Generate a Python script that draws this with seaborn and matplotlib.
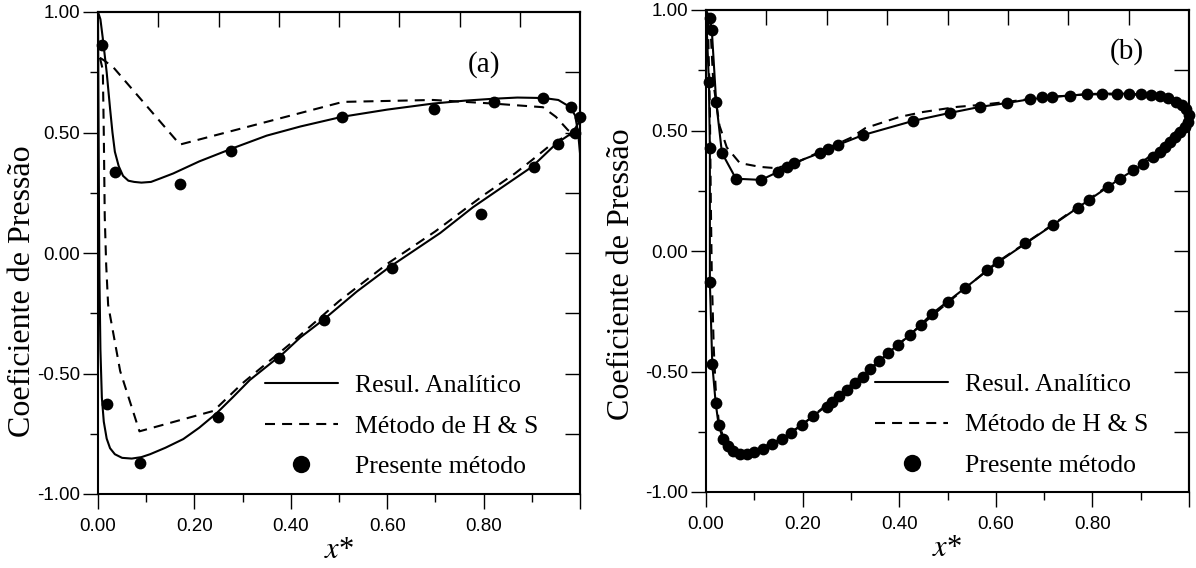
import matplotlib
matplotlib.use("Agg")
import matplotlib.pyplot as plt
import seaborn as sns
from matplotlib.lines import Line2D
from matplotlib.ticker import FixedLocator

# ---------------- data: panel (a) ----------------
a_anal_upper_x = [0.0, 0.005, 0.010, 0.018, 0.025, 0.030, 0.035, 0.043, 0.052, 0.063, 0.075, 0.090,
                  0.110, 0.130, 0.156, 0.210, 0.280, 0.350, 0.420, 0.506, 0.600, 0.695, 0.760, 0.820,
                  0.870, 0.925, 0.955, 0.980, 0.990, 0.996, 1.0]
a_anal_upper_cp = [1.0, 0.97, 0.89, 0.75, 0.60, 0.50, 0.42, 0.36, 0.32, 0.30, 0.295, 0.292,
                   0.295, 0.31, 0.33, 0.38, 0.435, 0.487, 0.525, 0.565, 0.595, 0.62, 0.632, 0.64,
                   0.645, 0.643, 0.635, 0.605, 0.57, 0.50, 0.415]
a_anal_lower_x = [0.0, 0.001, 0.002, 0.003, 0.005, 0.008, 0.012, 0.018, 0.025, 0.035, 0.050, 0.070,
                  0.090, 0.108, 0.140, 0.177, 0.210, 0.246, 0.280, 0.315, 0.350, 0.385, 0.420, 0.467,
                  0.537, 0.605, 0.710, 0.778, 0.840, 0.900, 0.952, 0.985, 1.0]
a_anal_lower_cp = [1.0, 0.6, 0.2, -0.1, -0.4, -0.6, -0.70, -0.77, -0.81, -0.835, -0.85, -0.853,
                   -0.847, -0.835, -0.808, -0.772, -0.725, -0.665, -0.598, -0.527, -0.471, -0.415, -0.35, -0.278,
                   -0.16, -0.058, 0.083, 0.19, 0.275, 0.357, 0.456, 0.50, 0.55]

a_hs_upper_x = [0.004, 0.012, 0.032, 0.170, 0.508, 0.695, 0.820, 0.923, 0.950, 0.975, 0.992]
a_hs_upper_cp = [0.81, 0.80, 0.77, 0.45, 0.627, 0.635, 0.62, 0.605, 0.565, 0.51, 0.485]
a_hs_lower_x = [0.004, 0.010, 0.012, 0.014, 0.017, 0.021, 0.046, 0.086, 0.240, 0.300, 0.400, 0.500,
                0.600, 0.700, 0.800, 0.865, 0.900, 0.940, 0.975, 0.992]
a_hs_lower_cp = [0.81, 0.76, 0.50, 0.15, -0.05, -0.215, -0.49, -0.74, -0.655, -0.54, -0.375, -0.20,
                 -0.045, 0.09, 0.24, 0.33, 0.385, 0.45, 0.49, 0.485]

a_pres_x = [0.008, 0.035, 0.170, 0.276, 0.506, 0.697, 0.821, 0.924, 0.981, 1.0, 0.990, 0.955,
            0.905, 0.794, 0.610, 0.469, 0.376, 0.249, 0.087, 0.018]
a_pres_cp = [0.863, 0.336, 0.286, 0.425, 0.566, 0.598, 0.627, 0.645, 0.607, 0.565, 0.496, 0.454,
             0.358, 0.162, -0.063, -0.278, -0.436, -0.68, -0.872, -0.627]

# ---------------- data: panel (b) ----------------
b_pres_upper_x = [0.008, 0.012, 0.021, 0.033, 0.062, 0.114, 0.149, 0.168, 0.182, 0.236, 0.252, 0.273,
                  0.325, 0.429, 0.505, 0.567, 0.623, 0.671, 0.696, 0.716, 0.754, 0.789, 0.820, 0.851,
                  0.876, 0.900, 0.921, 0.940, 0.957, 0.973, 0.985, 0.994, 1.0]
b_pres_upper_cp = [0.967, 0.917, 0.62, 0.407, 0.30, 0.295, 0.328, 0.349, 0.365, 0.407, 0.423, 0.44,
                   0.481, 0.54, 0.573, 0.598, 0.614, 0.63, 0.639, 0.639, 0.645, 0.651, 0.653, 0.653,
                   0.653, 0.65, 0.647, 0.643, 0.635, 0.62, 0.605, 0.59, 0.565]
b_pres_lower_x = [0.006, 0.008, 0.008, 0.013, 0.020, 0.026, 0.035, 0.045, 0.056, 0.070, 0.085, 0.099,
                  0.118, 0.136, 0.157, 0.176, 0.198, 0.222, 0.250, 0.260, 0.275, 0.292, 0.309, 0.325,
                  0.340, 0.358, 0.377, 0.397, 0.422, 0.445, 0.468, 0.501, 0.536, 0.582, 0.605, 0.660,
                  0.718, 0.770, 0.793, 0.832, 0.857, 0.884, 0.905, 0.925, 0.940, 0.950, 0.961, 0.971,
                  0.981, 0.992, 0.998]
b_pres_lower_cp = [0.70, 0.427, -0.13, -0.47, -0.63, -0.72, -0.78, -0.81, -0.83, -0.842, -0.842, -0.834,
                   -0.822, -0.80, -0.78, -0.755, -0.722, -0.685, -0.647, -0.627, -0.602, -0.577, -0.548, -0.523,
                   -0.49, -0.456, -0.423, -0.39, -0.349, -0.307, -0.26, -0.21, -0.154, -0.079, -0.046, 0.033,
                   0.108, 0.178, 0.212, 0.266, 0.30, 0.336, 0.36, 0.39, 0.41, 0.432, 0.452, 0.473,
                   0.494, 0.515, 0.535]

b_anal_upper_x = [0.0, 0.008, 0.012, 0.021, 0.033, 0.062, 0.114, 0.149, 0.182, 0.236, 0.273, 0.325,
                  0.429, 0.505, 0.567, 0.623, 0.671, 0.716, 0.754, 0.789, 0.820, 0.876, 0.921, 0.957,
                  0.985, 1.0]
b_anal_upper_cp = [1.0, 0.967, 0.917, 0.62, 0.407, 0.30, 0.295, 0.328, 0.365, 0.407, 0.44, 0.481,
                   0.54, 0.573, 0.598, 0.614, 0.63, 0.639, 0.645, 0.651, 0.653, 0.653, 0.647, 0.635,
                   0.605, 0.565]
b_anal_lower_x = [0.0, 0.006, 0.008, 0.008, 0.013, 0.020, 0.026, 0.035, 0.045, 0.056, 0.070, 0.085,
                  0.099, 0.136, 0.176, 0.222, 0.275, 0.325, 0.377, 0.422, 0.468, 0.536, 0.605, 0.718,
                  0.793, 0.857, 0.905, 0.950, 0.981, 1.0]
b_anal_lower_cp = [1.0, 0.70, 0.427, -0.13, -0.47, -0.63, -0.72, -0.78, -0.81, -0.83, -0.842, -0.842,
                   -0.834, -0.80, -0.755, -0.685, -0.602, -0.523, -0.423, -0.349, -0.26, -0.154, -0.046, 0.108,
                   0.212, 0.30, 0.36, 0.432, 0.494, 0.565]

b_hs_upper_x = [0.004, 0.010, 0.015, 0.028, 0.043, 0.070, 0.112, 0.143, 0.180, 0.250, 0.300, 0.330,
                0.400, 0.450, 0.520, 0.567, 0.620, 0.700, 0.790, 0.880, 0.940, 0.975, 0.995, 1.0]
b_hs_upper_cp = [0.95, 0.90, 0.70, 0.52, 0.43, 0.365, 0.349, 0.344, 0.36, 0.425, 0.47, 0.51,
                 0.556, 0.577, 0.598, 0.606, 0.618, 0.638, 0.65, 0.65, 0.64, 0.615, 0.585, 0.56]
b_hs_lower_x = [0.004, 0.008, 0.010, 0.012, 0.016, 0.020, 0.026, 0.035, 0.050, 0.070, 0.100, 0.150,
                0.200, 0.300, 0.400, 0.500, 0.600, 0.700, 0.800, 0.900, 0.950, 0.980, 1.0]
b_hs_lower_cp = [0.95, 0.60, 0.20, -0.10, -0.40, -0.57, -0.70, -0.77, -0.82, -0.835, -0.83, -0.785,
                 -0.72, -0.555, -0.385, -0.215, -0.05, 0.085, 0.225, 0.365, 0.44, 0.50, 0.56]

# ---------------- labels / ticks ----------------
x_major_ticks = [0.0, 0.2, 0.4, 0.6, 0.8, 1.0]
x_tick_labels = ["0.00", "0.20", "0.40", "0.60", "0.80", ""]
x_minor_ticks = [0.1, 0.3, 0.5, 0.7, 0.9]
x_top_ticks = [0.125, 0.25, 0.375, 0.5, 0.625, 0.75, 0.875]
y_major_ticks = [-1.0, -0.5, 0.0, 0.5, 1.0]
y_tick_labels = ["-1.00", "-0.50", "0.00", "0.50", "1.00"]
y_minor_ticks = [-0.75, -0.25, 0.25, 0.75]
y_right_ticks = [-0.75, -0.5, -0.25, 0.0, 0.25, 0.5, 0.75]
legend_labels = ["Resul. Analítico", "Método de H & S", "Presente método"]
y_label = "Coeficiente de Pressão"
x_label = r"$x$*"
panel_tags = ["(a)", "(b)"]

# ---------------- style ----------------
sns.set_theme(style="ticks")
plt.rcParams["font.family"] = ["Liberation Sans", "DejaVu Sans"]
plt.rcParams["mathtext.fontset"] = "stix"
plt.rcParams["axes.unicode_minus"] = False
for k in ["axes.edgecolor", "xtick.color", "ytick.color", "text.color", "axes.labelcolor"]:
    plt.rcParams[k] = "black"

SERIF = ["Liberation Serif", "DejaVu Serif"]
LW = 1.5
SPINE_LW = 1.5
DASH = (0, (4.8, 3.4))

fig = plt.figure(figsize=(11.96, 5.68), dpi=100)
W, H = 1196.0, 568.0
axA = fig.add_axes([98 / W, 1 - 494 / H, 482 / W, 482 / H])
axB = fig.add_axes([706 / W, 1 - 492 / H, 483 / W, 482 / H])


def draw_panel(ax, anal, hs, pres, tag, tag_xy, leg_anchor, ylab_xy):
    for (xs, ys) in anal:
        sns.lineplot(x=xs, y=ys, sort=False, estimator=None, color="black",
                     linewidth=LW, ax=ax, zorder=3)
    for (xs, ys) in hs:
        sns.lineplot(x=xs, y=ys, sort=False, estimator=None, color="black",
                     linewidth=LW, linestyle=DASH, ax=ax, zorder=3)
    for (xs, ys) in pres:
        sns.scatterplot(x=xs, y=ys, color="black", s=72, linewidth=0,
                        ax=ax, zorder=4, clip_on=False)

    ax.set_xlim(0, 1)
    ax.set_ylim(-1, 1)
    ax.set_xticks(x_major_ticks)
    ax.set_xticklabels(x_tick_labels)
    ax.xaxis.set_minor_locator(FixedLocator(x_minor_ticks))
    ax.set_yticks(y_major_ticks)
    ax.set_yticklabels(y_tick_labels)
    ax.yaxis.set_minor_locator(FixedLocator(y_minor_ticks))
    ax.tick_params(which="major", direction="out", length=11, width=1.0,
                   labelsize=13.5, top=False, right=False)
    ax.tick_params(which="minor", direction="out", length=5.5, width=1.0,
                   top=False, right=False)
    ax.tick_params(axis="x", which="major", pad=6.5)
    ax.tick_params(axis="y", which="major", pad=2)
    for sp in ax.spines.values():
        sp.set_linewidth(SPINE_LW)
        sp.set_visible(True)

    top = ax.secondary_xaxis("top")
    top.set_xticks(x_top_ticks)
    top.set_xticklabels([])
    top.tick_params(direction="in", length=11, width=1.0)
    right = ax.secondary_yaxis("right")
    right.set_yticks(y_right_ticks)
    right.set_yticklabels([])
    right.tick_params(direction="in", length=11, width=1.0)
    for sec in (top, right):
        for sp in sec.spines.values():
            sp.set_linewidth(SPINE_LW)

    ax.set_ylabel(y_label, family=SERIF, fontsize=23)
    ax.yaxis.label.set_verticalalignment("center")
    ax.yaxis.set_label_coords(*ylab_xy)
    ax.set_xlabel(x_label, family=SERIF, fontsize=22)
    ax.xaxis.label.set_verticalalignment("center")
    ax.xaxis.set_label_coords(0.5, -0.118)

    ax.text(tag_xy[0], tag_xy[1], tag, transform=ax.transAxes, family=SERIF,
            fontsize=21, ha="center", va="center")

    handles = [
        Line2D([], [], color="black", lw=LW),
        Line2D([], [], color="black", lw=LW, linestyle=DASH),
        Line2D([], [], color="black", marker="o", linestyle="none", markersize=12.5,
               markeredgewidth=0),
    ]
    ax.legend(handles, legend_labels, loc="center left", bbox_to_anchor=leg_anchor,
              frameon=False, prop={"family": SERIF, "size": 18.5}, handlelength=2.85,
              handletextpad=0.66, labelspacing=0.68, borderpad=0, borderaxespad=0)


draw_panel(axA,
           [(a_anal_upper_x, a_anal_upper_cp), (a_anal_lower_x, a_anal_lower_cp)],
           [(a_hs_upper_x, a_hs_upper_cp), (a_hs_lower_x, a_hs_lower_cp)],
           [(a_pres_x, a_pres_cp)],
           panel_tags[0], (0.80, 0.89), (0.346, 0.141), (-0.156, 0.421))

draw_panel(axB,
           [(b_anal_upper_x, b_anal_upper_cp), (b_anal_lower_x, b_anal_lower_cp)],
           [(b_hs_upper_x, b_hs_upper_cp), (b_hs_lower_x, b_hs_lower_cp)],
           [(b_pres_upper_x, b_pres_upper_cp), (b_pres_lower_x, b_pres_lower_cp)],
           panel_tags[1], (0.872, 0.913), (0.35, 0.139), (-0.174, 0.452))

fig.savefig("out.png", dpi=100)
